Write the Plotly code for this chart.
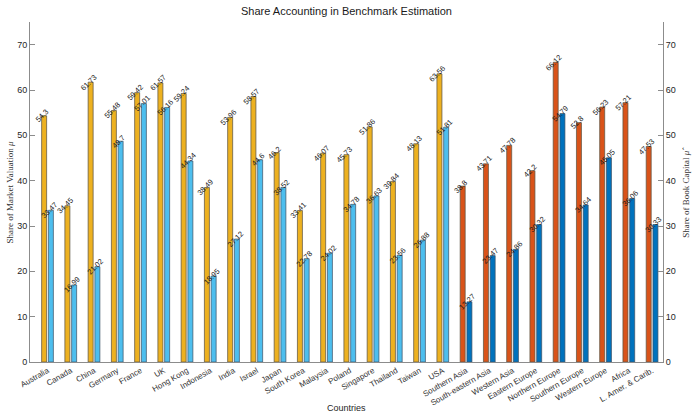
import plotly.graph_objects as go

# Categories: countries followed by world regions
countries = ["Australia", "Canada", "China", "Germany", "France", "UK", "Hong Kong",
             "Indonesia", "India", "Israel", "Japan", "South Korea", "Malaysia",
             "Poland", "Singapore", "Thailand", "Taiwan", "USA",
             "Southern Asia", "South-eastern Asia", "Western Asia", "Eastern Europe",
             "Northern Europe", "Southern Europe", "Western Europe", "Africa",
             "L. Amer. & Carib."]

# Share of market valuation (mu)
market_share = [54.3, 34.45, 61.73, 55.48, 59.42, 61.57, 59.24, 38.49, 53.96, 58.57,
                46.2, 33.41, 46.07, 45.73, 51.86, 39.84, 48.13, 63.56,
                38.8, 43.71, 47.78, 42.2, 66.12, 52.8, 56.23, 57.21, 47.53]

# Share of book capital (mu hat)
book_share = [33.47, 16.99, 21.02, 48.7, 57.01, 56.16, 44.34, 18.95, 27.12, 44.6,
              38.52, 22.78, 24.02, 34.78, 36.63, 23.56, 26.88, 51.81,
              13.27, 23.47, 24.86, 30.32, 54.79, 34.64, 45.05, 36.06, 30.33]

n_countries = 18  # first entries are single countries, the rest are regions
yticks = [0, 10, 20, 30, 40, 50, 60, 70]

n = len(countries)
idx = list(range(1, n + 1))
off = 0.145
bw = 0.215

c_mkt = ["#EDB120" if i < n_countries else "#D95319" for i in range(n)]
c_book = ["#4DBEEE" if i < n_countries else "#0072BD" for i in range(n)]

fig = go.Figure()
fig.add_trace(go.Bar(x=[i - off for i in idx], y=market_share, width=bw,
                     marker=dict(color=c_mkt, line=dict(color="rgba(95,85,70,0.75)", width=1)),
                     showlegend=False, hoverinfo="y"))
fig.add_trace(go.Bar(x=[i + off for i in idx], y=book_share, width=bw,
                     marker=dict(color=c_book, line=dict(color="rgba(60,80,100,0.7)", width=1)),
                     showlegend=False, hoverinfo="y"))
# invisible trace that carries the right-hand axis
fig.add_trace(go.Scatter(x=[1], y=[0], yaxis="y2", mode="markers",
                         marker=dict(opacity=0), showlegend=False, hoverinfo="skip"))

annotations = []
lab_font = dict(family="Liberation Sans, Arial, sans-serif", size=7.5, color="#1a1a1a")
for i, (a, b) in enumerate(zip(market_share, book_share)):
    for xv, v in ((idx[i] - off, a), (idx[i] + off, b)):
        annotations.append(dict(x=xv - 0.08, y=v, xref="x", yref="y", text=f"{v:g}",
                                showarrow=False, textangle=-45, font=lab_font,
                                xanchor="center", yanchor="middle"))

annotations += [
    dict(x=0.5, y=-0.135, xref="paper", yref="paper", yanchor="middle",
         text="Countries", showarrow=False,
         font=dict(family="Liberation Sans, Arial, sans-serif", size=9, color="#262626")),
    dict(x=-0.042, y=0.5, xref="paper", yref="paper", textangle=-90,
         text="Share of Market Valuation <i>μ</i>", showarrow=False,
         font=dict(family="Liberation Serif, DejaVu Serif, serif", size=9, color="#333333")),
    dict(x=1.047, y=0.5, xref="paper", yref="paper", textangle=-90,
         text="Share of Book Capital <i>μ̂</i>", showarrow=False,
         font=dict(family="Liberation Serif, DejaVu Serif, serif", size=9, color="#333333")),
]

axis_font = dict(family="Liberation Sans, Arial, sans-serif", size=9, color="#262626")
xtick_font = dict(family="Liberation Sans, Arial, sans-serif", size=8, color="#333333")
fig.update_layout(
    width=693, height=415,
    margin=dict(l=30, r=30, t=22, b=53, autoexpand=False),
    paper_bgcolor="white", plot_bgcolor="white",
    barmode="overlay",
    title=dict(text="Share Accounting in Benchmark Estimation", x=0.5, xanchor="center",
               y=0.972, yanchor="middle",
               font=dict(family="Liberation Sans, Arial, sans-serif", size=11, color="#1a1a1a")),
    xaxis=dict(range=[0.247, 27.47], tickmode="array", tickvals=idx, ticktext=countries,
               tickangle=-30, tickfont=xtick_font, showline=True, linecolor="#8c8c8c",
               linewidth=1, ticks="", showgrid=False, zeroline=False, fixedrange=True,
               automargin=False),
    yaxis=dict(range=[0, 75], tickvals=yticks, tickfont=axis_font, showline=True,
               linecolor="#8c8c8c", linewidth=1, ticks="inside", ticklen=5,
               tickcolor="#8c8c8c", showgrid=False, zeroline=False, automargin=False),
    yaxis2=dict(range=[0, 75], tickvals=yticks, tickfont=axis_font, overlaying="y",
                side="right", showline=True, linecolor="#8c8c8c", linewidth=1,
                ticks="inside", ticklen=5, tickcolor="#8c8c8c", showgrid=False,
                zeroline=False, automargin=False),
    annotations=annotations,
)

fig.write_html("out.html")
